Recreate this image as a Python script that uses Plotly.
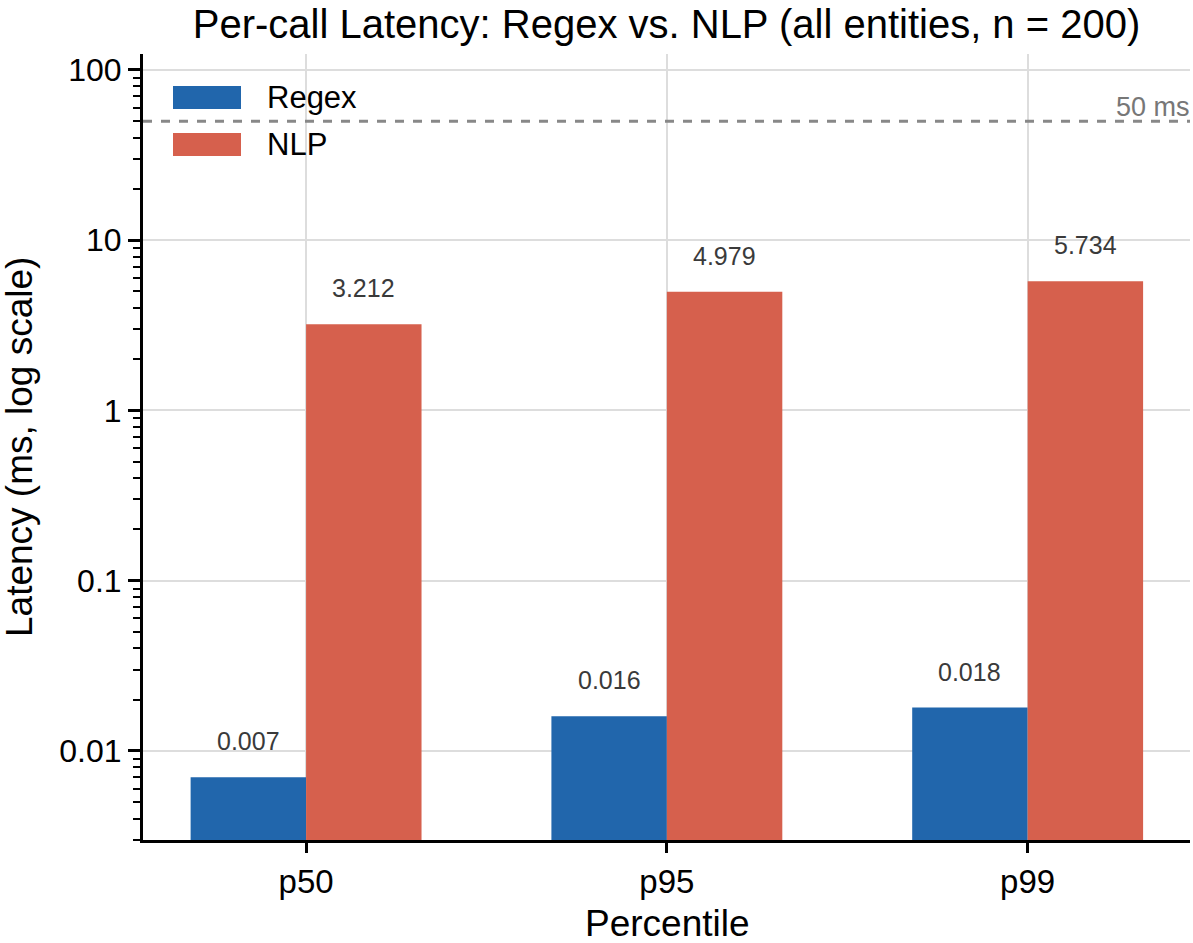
import plotly.graph_objects as go
import math

percentiles = ["p50", "p95", "p99"]
regex_ms = [0.007, 0.016, 0.018]
nlp_ms = [3.212, 4.979, 5.734]
threshold_ms = 50
series_names = ["Regex", "NLP"]

BLUE = "#2166ac"
RED = "#d6604d"
FONT = "Liberation Sans, Arial, Helvetica, sans-serif"

W, H = 1193, 943
ml, mr, mt, mb = 143, 3, 54, 103
plot_w = W - ml - mr
plot_h = H - mt - mb
x_range = [-0.452, 2.45]
y_range = [math.log10(0.003), math.log10(124)]
px_per_cat = plot_w / (x_range[1] - x_range[0])
bargap = 0.36
bar_px = px_per_cat * (1 - bargap) / 2


def px_x(px):
    return (px - ml) / plot_w


def px_y(py):
    return 1 - (py - mt) / plot_h


fig = go.Figure()
for name, vals, col in ((series_names[0], regex_ms, BLUE), (series_names[1], nlp_ms, RED)):
    fig.add_trace(go.Bar(name=name, x=percentiles, y=vals, marker_color=col,
                         marker_line_width=0, showlegend=False))

annotations = []
for vals, shift in ((regex_ms, -bar_px / 2), (nlp_ms, bar_px / 2)):
    for cat, v in zip(percentiles, vals):
        annotations.append(dict(
            x=cat, y=math.log10(v), xref="x", yref="y", text=f"{v:.3f}",
            showarrow=False, xshift=shift, yshift=36, yanchor="middle",
            font=dict(size=25, color="#3a3a3a", family=FONT)))

annotations.append(dict(
    x=1, xref="paper", y=math.log10(threshold_ms), yref="y", text=f"{threshold_ms} ms",
    showarrow=False, xanchor="right", yanchor="bottom", yshift=-3, xshift=2,
    font=dict(size=27, color="#777777", family=FONT)))

shapes = [dict(type="line", xref="paper", x0=0, x1=1, yref="y",
               y0=threshold_ms, y1=threshold_ms,
               line=dict(color="#888888", width=3, dash="dash"))]

# custom legend with wide swatches, as in the reference
for i, (name, col) in enumerate(zip(series_names, (BLUE, RED))):
    cy = 97.5 + i * 47
    shapes.append(dict(type="rect", xref="paper", yref="paper",
                       x0=px_x(173), x1=px_x(241), y0=px_y(cy - 11.5), y1=px_y(cy + 11.5),
                       fillcolor=col, line=dict(width=0)))
    annotations.append(dict(x=px_x(265), y=px_y(cy), xref="paper", yref="paper",
                            text=name, showarrow=False, xanchor="left", yanchor="middle",
                            font=dict(size=31, color="black", family=FONT)))

# axis titles
annotations.append(dict(x=px_x(667), y=px_y(923), xref="paper", yref="paper",
                        text="Percentile", showarrow=False, xanchor="center",
                        yanchor="middle", font=dict(size=37, color="black", family=FONT)))
annotations.append(dict(x=px_x(19), y=px_y(447), xref="paper", yref="paper",
                        text="Latency (ms, log scale)", showarrow=False, textangle=-90,
                        xanchor="center", yanchor="middle",
                        font=dict(size=37, color="black", family=FONT)))

fig.update_layout(
    width=W, height=H,
    margin=dict(l=ml, r=mr, t=mt, b=mb),
    paper_bgcolor="white", plot_bgcolor="white",
    font=dict(family=FONT, color="black", size=31),
    barmode="group", bargap=bargap, bargroupgap=0,
    showlegend=False,
    title=dict(text="Per-call Latency: Regex vs. NLP (all entities, n = 200)",
               x=0.5, xref="paper", y=1 - 24 / H, yref="container",
               xanchor="center", yanchor="middle",
               font=dict(size=40, family=FONT, color="black")),
    annotations=annotations,
    shapes=shapes,
    xaxis=dict(range=x_range, showgrid=True, gridcolor="#dddddd", gridwidth=2,
               showline=True, linecolor="black", linewidth=3,
               ticks="outside", ticklen=10, tickwidth=2.5, tickcolor="black",
               tickfont=dict(size=33), zeroline=False),
    yaxis=dict(type="log", range=y_range, tickmode="linear", tick0=0, dtick=1,
               showgrid=True, gridcolor="#dddddd", gridwidth=2,
               showline=True, linecolor="black", linewidth=3,
               ticks="outside", ticklen=12, tickwidth=2.5, tickcolor="black",
               tickfont=dict(size=32), zeroline=False,
               minor=dict(ticks="outside", ticklen=7, tickwidth=2, tickcolor="black",
                          showgrid=False)),
)

fig.write_html("out.html")
